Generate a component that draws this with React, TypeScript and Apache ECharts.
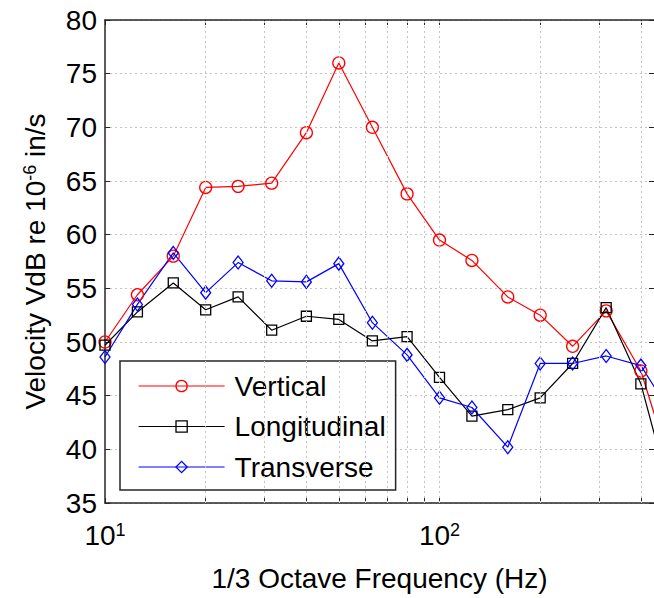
import React, { useEffect, useRef } from 'react';
import * as echarts from 'echarts';

// 1/3 octave band centre frequencies (Hz)
const frequencies = [10, 12.5, 16, 20, 25, 31.5, 40, 50, 63, 80, 100, 125, 160, 200, 250, 315, 400, 500];
// Velocity VdB re 1e-6 in/s
const vertical = [50.0, 54.4, 58.0, 64.4, 64.5, 64.8, 69.5, 76.0, 70.0, 63.8, 59.5, 57.6, 54.2, 52.5, 49.6, 52.9, 47.3, 37.6];
const longitudinal = [49.7, 52.8, 55.5, 53.0, 54.2, 51.1, 52.4, 52.1, 50.1, 50.5, 46.7, 43.1, 43.7, 44.8, 48.0, 53.2, 46.1, 34.8];
const transverse = [48.6, 53.5, 58.3, 54.6, 57.4, 55.7, 55.6, 57.3, 51.8, 48.8, 44.8, 43.9, 40.2, 48.0, 48.0, 48.7, 47.8, 43.0];

const seriesNames = ['Vertical', 'Longitudinal', 'Transverse'];
const gridFrequencies = [20, 30, 40, 50, 60, 70, 80, 90, 100, 200, 300, 400];
const tickFrequencies = [10, 20, 30, 40, 50, 60, 70, 80, 90, 100, 200, 300, 400];
const xLabelExponents = [1, 2];
const xMin = 10;
const xMax = 437.8;
const yMin = 35;
const yMax = 80;
const yInterval = 5;

const FONT = 'Liberation Sans, Arial, Helvetica, sans-serif';
const AXIS_COLOR = '#262626';
const GRID_LINE = { color: '#c4c4c4', type: [2, 3] as number[], width: 1 };

const colors = ['#ff0000', '#000000', '#0000ff'];
const symbols = ['circle', 'rect', 'diamond'];
const symbolSizes: (number | number[])[] = [12, 10, [10, 13]];

export default function App() {
  const ref = useRef<HTMLDivElement>(null);

  useEffect(() => {
    if (!ref.current) return;
    const chart = echarts.init(ref.current, undefined, { renderer: 'svg' });

    const dataSets = [vertical, longitudinal, transverse];

    const lineSeries = dataSets.map((vals, k) => ({
      name: seriesNames[k],
      type: 'line',
      xAxisIndex: 0,
      yAxisIndex: 0,
      data: frequencies.map((f, i) => [f, vals[i]]),
      symbol: symbols[k],
      symbolSize: symbolSizes[k],
      showSymbol: true,
      clip: true,
      z: 3,
      lineStyle: { color: colors[k], width: 1.2 },
      itemStyle: { color: 'rgba(0,0,0,0)', borderColor: colors[k], borderWidth: 1.3 },
      emphasis: { disabled: true },
    }));

    const option: any = {
      animation: false,
      textStyle: { fontFamily: FONT },
      grid: { left: 105, right: 0, top: 20, bottom: 95, containLabel: false, outerBoundsMode: 'none' },
      legend: {
        orient: 'vertical',
        left: 120,
        top: 361,
        padding: [11, 10, 9, 18],
        itemWidth: 86,
        itemHeight: 14,
        itemGap: 12.5,
        backgroundColor: '#ffffff',
        borderColor: AXIS_COLOR,
        borderWidth: 1.5,
        selectedMode: false,
        textStyle: { fontSize: 28, lineHeight: 28, color: '#000', fontFamily: FONT, padding: [0, 0, 0, 5] },
        data: seriesNames.map((n, k) => ({
          name: n,
          itemStyle: { color: 'rgba(0,0,0,0)', borderColor: colors[k], borderWidth: 1.3 },
          lineStyle: { color: colors[k], width: 1.2 },
        })),
      },
      xAxis: [
        {
          type: 'log',
          logBase: 10,
          min: xMin,
          max: xMax,
          position: 'bottom',
          axisLine: { show: true, lineStyle: { color: AXIS_COLOR, width: 1.5 } },
          axisTick: { show: true, inside: true, length: 5, customValues: tickFrequencies, lineStyle: { color: AXIS_COLOR } },
          axisLabel: {
            show: true,
            showMaxLabel: true,
            showMinLabel: true,
            hideOverlap: false,
            margin: 18,
            formatter: (v: number) => {
              const e = Math.log10(v);
              const r = Math.round(e);
              if (Math.abs(e - r) > 1e-6 || xLabelExponents.indexOf(r) < 0) return '';
              return `{b|10}{s|${r}}`;
            },
            rich: {
              b: { fontSize: 28, color: '#000', fontFamily: FONT },
              s: { fontSize: 18, color: '#000', fontFamily: FONT, verticalAlign: 'top' },
            },
          },
          splitLine: { show: false },
          minorTick: { show: false },
          name: '1/3 Octave Frequency (Hz)',
          nameLocation: 'middle',
          nameGap: 61,
          nameTextStyle: { fontSize: 28, color: '#000', fontFamily: FONT },
        },
        {
          type: 'log',
          logBase: 10,
          min: xMin,
          max: xMax,
          position: 'top',
          axisLine: { show: true, lineStyle: { color: AXIS_COLOR, width: 1.5 } },
          axisTick: { show: true, inside: true, length: 5, customValues: tickFrequencies, lineStyle: { color: AXIS_COLOR } },
          axisLabel: { show: false },
          splitLine: { show: false },
        },
      ],
      yAxis: [
        {
          type: 'value',
          min: yMin,
          max: yMax,
          interval: yInterval,
          position: 'left',
          axisLine: { show: true, lineStyle: { color: AXIS_COLOR, width: 1.5 } },
          axisTick: { show: true, inside: true, length: 5, lineStyle: { color: AXIS_COLOR } },
          axisLabel: { fontSize: 28, color: '#000', margin: 8, fontFamily: FONT },
          splitLine: { show: true, lineStyle: GRID_LINE },
          name: '{b|Velocity VdB re 10}{s|-6}{b| in/s}',
          nameLocation: 'middle',
          nameGap: 56,
          nameTextStyle: {
            rich: {
              b: { fontSize: 28, color: '#000', fontFamily: FONT },
              s: { fontSize: 18, color: '#000', fontFamily: FONT, verticalAlign: 'top' },
            },
          },
        },
        {
          type: 'value',
          min: yMin,
          max: yMax,
          interval: yInterval,
          position: 'right',
          axisLine: { show: false },
          axisTick: { show: true, inside: true, length: 5, lineStyle: { color: AXIS_COLOR } },
          axisLabel: { show: false },
          splitLine: { show: false },
        },
      ],
      series: [
        {
          name: 'grid',
          type: 'line',
          xAxisIndex: 0,
          yAxisIndex: 0,
          data: [[xMin, yMin]],
          showSymbol: false,
          symbol: 'none',
          lineStyle: { opacity: 0 },
          z: 1,
          silent: true,
          markLine: {
            silent: true,
            symbol: ['none', 'none'],
            label: { show: false },
            lineStyle: GRID_LINE,
            emphasis: { disabled: true },
            data: gridFrequencies.map((f) => ({ xAxis: f })),
          },
        },
        ...lineSeries,
      ],
    };

    chart.setOption(option);
    return () => chart.dispose();
  }, []);

  return (
    <div
      ref={ref}
      style={{ position: 'absolute', left: 0, top: 0, width: 654, height: 598, background: '#fff' }}
    />
  );
}
